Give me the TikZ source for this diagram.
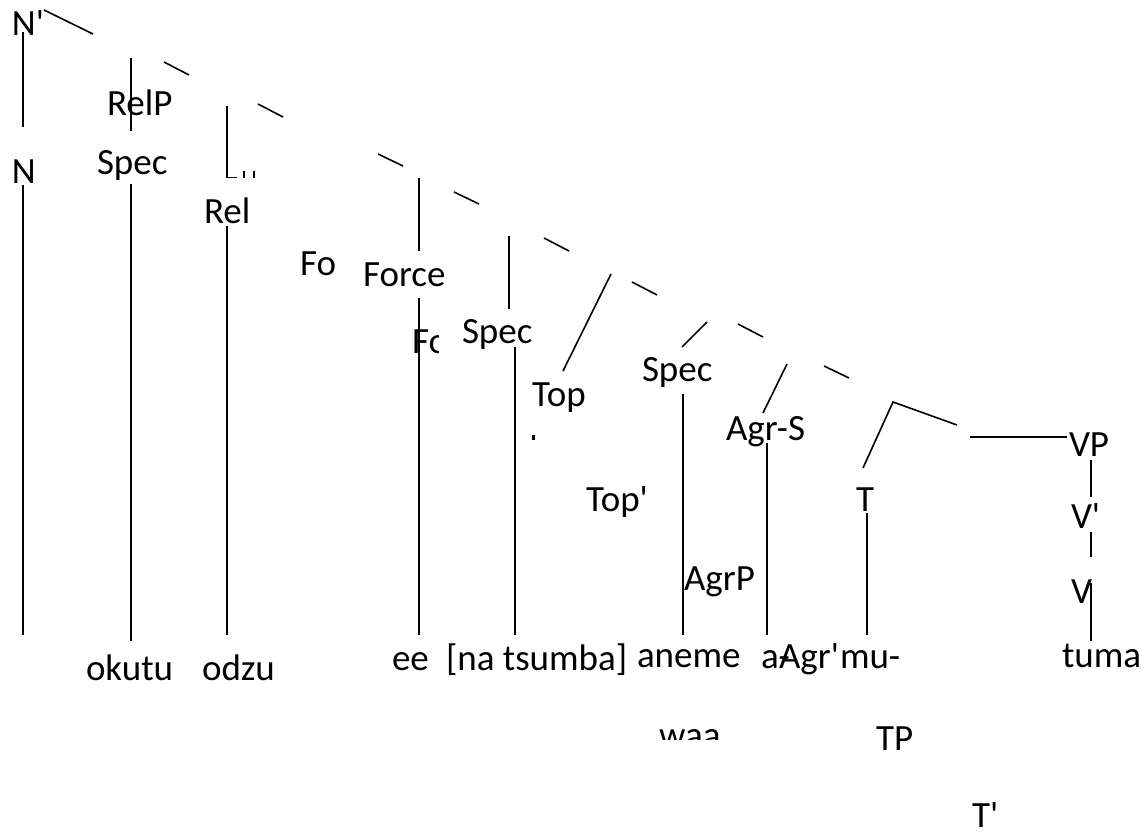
\documentclass[tikz,border=0pt]{standalone}
\usepackage{fontspec}
\setmainfont{Carlito}[Ligatures=TeXOff]
\tikzset{
  lbl/.style={anchor=base west, inner sep=0pt, outer sep=0pt, font=\fontsize{37}{44}\selectfont},
  edge/.style={draw=black, line width=1.6pt}
}
\begin{document}
\begin{tikzpicture}[x=1pt,y=-1pt]
\useasboundingbox (0,0) rectangle (1144,832);
% labels
\node[lbl] (nbar) at (12,36) {N'};
\node[lbl] (relp) at (107,116) {RelP};
\node[lbl] (n) at (12,184) {N};
\node[lbl] (spec1) at (97,175) {Spec};
\node[lbl] (rel) at (204,223) {Rel};
\node[lbl] (fo) at (300,275) {Fo};
\node[lbl] (force) at (363,286) {Force};
\begin{scope}
\clip (405,300) rectangle (438,370);
\node[lbl] (forceclip) at (412,353) {Force};
\end{scope}
\node[lbl] (spec2) at (462,343) {Spec};
\node[lbl] (top) at (532,406) {Top};
\node[lbl] (spec3) at (642,381) {Spec};
\node[lbl] (agrs) at (726,440) {Agr-S};
\node[lbl] (topbar) at (586,511) {Top'};
\node[lbl] (t) at (856,511) {T};
\node[lbl] (vp) at (1069,456) {VP};
\node[lbl] (vbar) at (1071,528) {V'};
\node[lbl] (v) at (1071,603) {V};
\node[lbl] (agrp) at (684,590) {AgrP};
\node[lbl] (okutu) at (86,680) {okutu};
\node[lbl] (odzu) at (202,680) {odzu};
\node[lbl] (ee) at (392,670) {ee};
\node[lbl] (natsumba) at (446,670) {[na tsumba]};
\node[lbl] (aneme) at (637,667) {aneme};
\node[lbl] (ahyph) at (761,668) {a-};
\node[lbl] (agrbar) at (779,668) {Agr'};
\node[lbl] (mu) at (840,668) {mu-};
\node[lbl] (tuma) at (1062,667) {tuma};
\begin{scope}
\clip (640,720) rectangle (720,739);
\node[lbl] (waa) at (659,747) {waa};
\end{scope}
\node[lbl] (tp) at (876,750) {TP};
\node[lbl] (tbar) at (972,827) {T'};
% small fragments
\fill (531.5,435) rectangle (534.5,440);
\coordinate (f1) at (227,177.5); \coordinate (f2) at (237,177.5);
\coordinate (f3) at (244,171); \coordinate (f4) at (244,178);
\coordinate (f5) at (254,171); \coordinate (f6) at (254,178);
\draw[edge] (f1) -- (f2);
\draw[edge] (f3) -- (f4);
\draw[edge] (f5) -- (f6);
% upper segments
\coordinate (a1) at (23,32);   \coordinate (a2) at (23,127);
\coordinate (b1) at (44,10);   \coordinate (b2) at (93,34);
\coordinate (c1) at (131,58);  \coordinate (c2) at (131,131);
\coordinate (d1) at (164,62);  \coordinate (d2) at (189,75);
\coordinate (e1) at (227,106); \coordinate (e2) at (227,178);
\coordinate (g1) at (258,104); \coordinate (g2) at (283,117);
\coordinate (h1) at (378,154); \coordinate (h2) at (403,166);
\coordinate (i1) at (419,178); \coordinate (i2) at (419,251);
\coordinate (j1) at (454,192); \coordinate (j2) at (479,204);
\coordinate (k1) at (509,236); \coordinate (k2) at (509,309);
\coordinate (l1) at (544,238); \coordinate (l2) at (569,251);
\coordinate (m1) at (611,274); \coordinate (m2) at (563,371);
\coordinate (n1) at (632,282); \coordinate (n2) at (657,295);
\coordinate (o1) at (707,322); \coordinate (o2) at (682,347);
\coordinate (p1) at (738,324); \coordinate (p2) at (763,337);
\coordinate (q1) at (787,364); \coordinate (q2) at (763,413);
\coordinate (r1) at (824,366); \coordinate (r2) at (849,378);
\coordinate (s0) at (893,402); \coordinate (s1) at (863,468); \coordinate (s2) at (957,425);
\coordinate (u1) at (970,437); \coordinate (u2) at (1067,437);
\coordinate (v1) at (1091,460); \coordinate (v2) at (1091,497);
\coordinate (w1) at (1091,532); \coordinate (w2) at (1091,557);
\coordinate (x1) at (1091,583); \coordinate (x2) at (1091,641);
\draw[edge] (a1) -- (a2);
\draw[edge] (b1) -- (b2);
\draw[edge] (c1) -- (c2);
\draw[edge] (d1) -- (d2);
\draw[edge] (e1) -- (e2);
\draw[edge] (g1) -- (g2);
\draw[edge] (h1) -- (h2);
\draw[edge] (i1) -- (i2);
\draw[edge] (j1) -- (j2);
\draw[edge] (k1) -- (k2);
\draw[edge] (l1) -- (l2);
\draw[edge] (m1) -- (m2);
\draw[edge] (n1) -- (n2);
\draw[edge] (o1) -- (o2);
\draw[edge] (p1) -- (p2);
\draw[edge] (q1) -- (q2);
\draw[edge] (r1) -- (r2);
\draw[edge] (s1) -- (s0) -- (s2);
\draw[edge] (u1) -- (u2);
\draw[edge] (v1) -- (v2);
\draw[edge] (w1) -- (w2);
\draw[edge] (x1) -- (x2);
% lower verticals
\coordinate (y1a) at (23,185);  \coordinate (y1b) at (23,635);
\coordinate (y2a) at (131,184); \coordinate (y2b) at (131,641);
\coordinate (y3a) at (227,226); \coordinate (y3b) at (227,635);
\coordinate (y4a) at (419,298); \coordinate (y4b) at (419,635);
\coordinate (y5a) at (515,347); \coordinate (y5b) at (515,635);
\coordinate (y6a) at (683,394); \coordinate (y6b) at (683,635);
\coordinate (y7a) at (767,443); \coordinate (y7b) at (767,635);
\coordinate (y8a) at (867,513); \coordinate (y8b) at (867,635);
\draw[edge] (y1a) -- (y1b);
\draw[edge] (y2a) -- (y2b);
\draw[edge] (y3a) -- (y3b);
\draw[edge] (y4a) -- (y4b);
\draw[edge] (y5a) -- (y5b);
\draw[edge] (y6a) -- (y6b);
\draw[edge] (y7a) -- (y7b);
\draw[edge] (y8a) -- (y8b);
\end{tikzpicture}
\end{document}
